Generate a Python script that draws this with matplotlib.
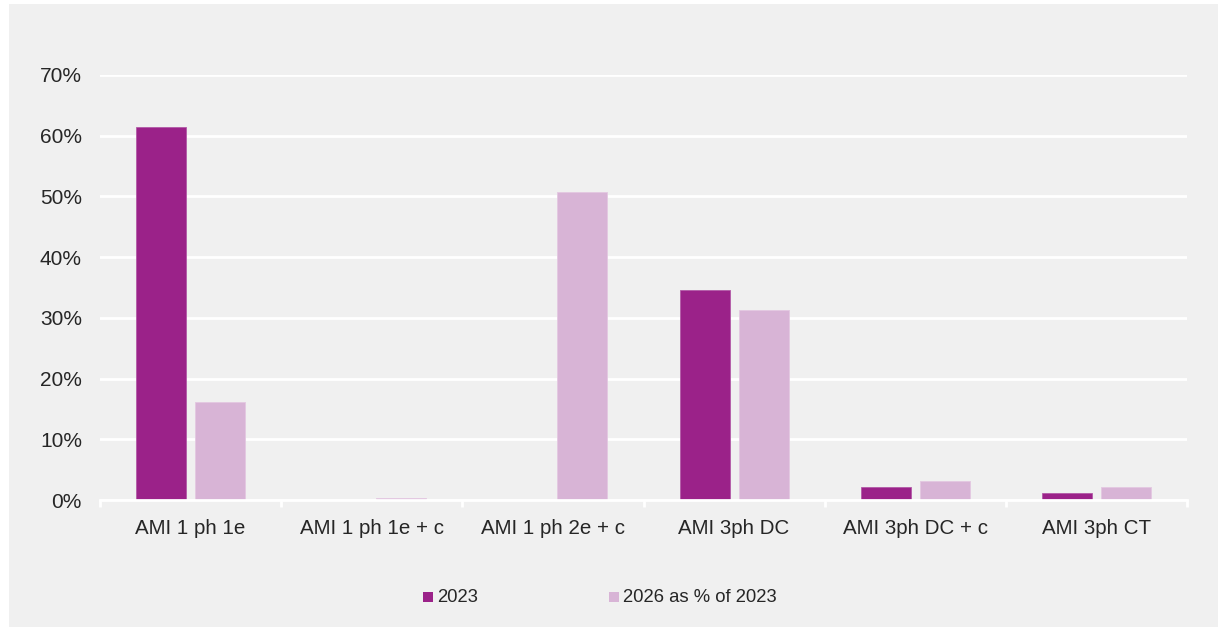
import matplotlib
matplotlib.use("Agg")
import matplotlib.pyplot as plt
from matplotlib.patches import Rectangle
from matplotlib.ticker import FuncFormatter, MultipleLocator
import numpy as np

categories = ["AMI 1 ph 1e", "AMI 1 ph 1e + c", "AMI 1 ph 2e + c",
              "AMI 3ph DC", "AMI 3ph DC + c", "AMI 3ph CT"]
share_2023 = [61.5, 0.0, 0.0, 34.6, 2.1, 1.1]
share_2026 = [16.1, 0.3, 50.7, 31.3, 3.2, 2.1]
series_names = ["2023", "2026 as % of 2023"]

plt.rcParams["font.family"] = ["Liberation Sans", "DejaVu Sans"]

W, H = 1218, 627
fig = plt.figure(figsize=(W / 100, H / 100), dpi=100)
fig.patch.set_facecolor("white")
bg = "#f0f0f0"
fig.patches.append(Rectangle((9 / W, 0), 1 - 9 / W, 1 - 4 / H,
                             transform=fig.transFigure, facecolor=bg,
                             edgecolor="none", zorder=-10))

ax = fig.add_axes([100 / W, 1 - 500 / H, 1087 / W, 425 / H])
ax.set_facecolor(bg)

dark = "#9b2289"
light = "#d8b4d6"
text_col = "#262626"
x = np.arange(len(categories))
bw = 0.276
gap = 0.05
ax.bar(x - (bw + gap) / 2, share_2023, width=bw, color=dark,
       edgecolor="#b35aa7", linewidth=0.6, zorder=3, label=series_names[0])
ax.bar(x + (bw + gap) / 2, share_2026, width=bw, color=light,
       edgecolor="#e3c8e1", linewidth=0.6, zorder=3, label=series_names[1])

ax.set_xlim(-0.5, len(categories) - 0.5)
ax.set_ylim(0, 70)
ax.yaxis.set_major_locator(MultipleLocator(10))
ax.yaxis.set_major_formatter(FuncFormatter(lambda v, p: f"{v:.0f}%"))
ax.grid(axis="y", color="white", linewidth=2, zorder=1)
ax.set_axisbelow(True)
for s in ["top", "right", "left"]:
    ax.spines[s].set_visible(False)
ax.spines["bottom"].set_color("white")
ax.spines["bottom"].set_linewidth(2)
ax.spines["bottom"].set_zorder(4)

ax.set_xticks(x)
ax.set_xticklabels(categories)
ax.set_xticks(np.arange(len(categories) + 1) - 0.5, minor=True)
ax.tick_params(axis="x", which="major", length=0, pad=14,
               labelsize=14.8, labelcolor=text_col)
ax.tick_params(axis="x", which="minor", length=5, width=2, color="white")
ax.tick_params(axis="y", length=0, pad=13, labelsize=15, labelcolor=text_col)

# Legend laid out as two separate square markers with labels
for lx, name, col in [(423, series_names[0], dark), (609, series_names[1], light)]:
    fig.patches.append(Rectangle((lx / W, 1 - 602 / H), 10 / W, 10 / H,
                                 transform=fig.transFigure, facecolor=col,
                                 edgecolor="none"))
    fig.text((lx + 14) / W, 1 - 597 / H, name, fontsize=13.3, color=text_col,
             va="center", ha="left")

fig.savefig("out.png", dpi=100, facecolor=fig.get_facecolor())
